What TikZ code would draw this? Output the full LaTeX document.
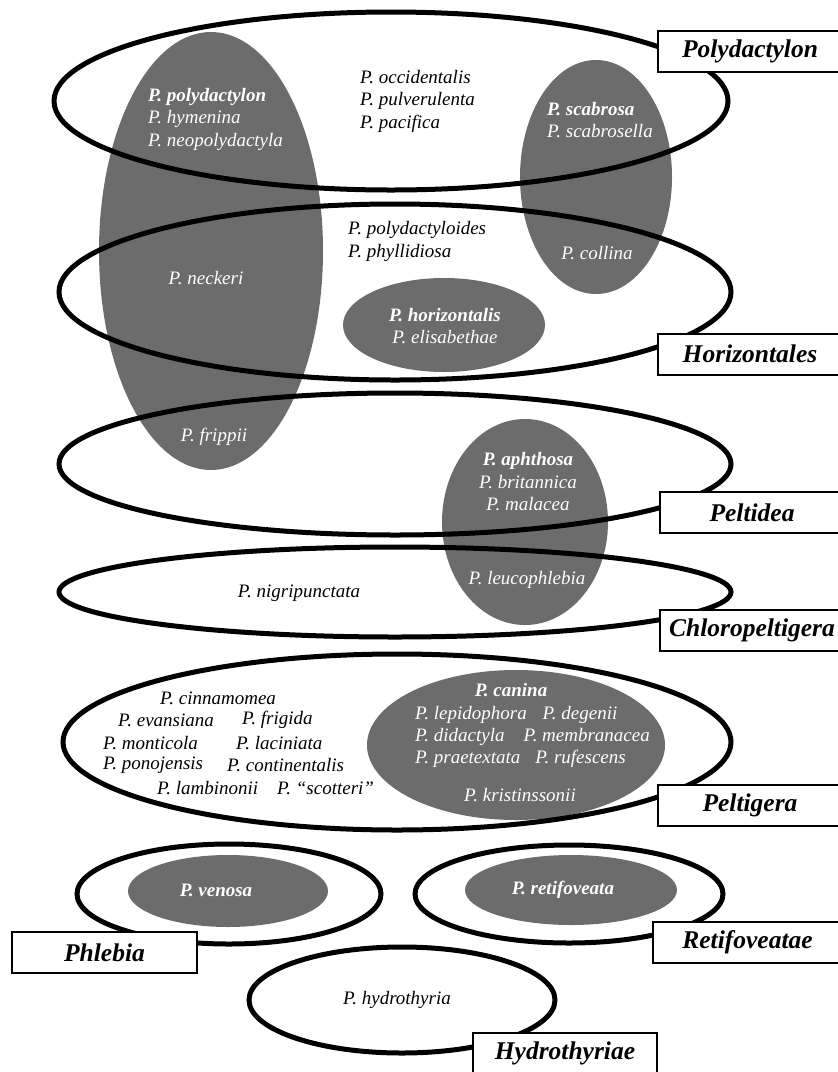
\documentclass[tikz,border=0pt]{standalone}
\usepackage{fontspec}
\setmainfont{Liberation Serif}
\definecolor{shade}{RGB}{108,108,108}
\tikzset{
  grp/.style={draw=black, line width=5pt},
  blob/.style={fill=shade},
  sp/.style={font=\fontsize{19}{22.5}\selectfont\itshape, inner sep=0pt},
  spw/.style={sp, text=white},
  lbl/.style={draw=black, line width=2pt, fill=white, font=\fontsize{25.5}{28}\selectfont\bfseries\itshape, minimum height=41pt, inner sep=0pt},
}
\begin{document}
\begin{tikzpicture}[x=1pt,y=-1pt]
\useasboundingbox[fill=white] (0,0) rectangle (838,1072);
% grey blobs
\fill[blob] (211,251) ellipse [x radius=112, y radius=219];
\fill[blob] (596,177) ellipse [x radius=76, y radius=117];
\fill[blob] (444,325) ellipse [x radius=101, y radius=47];
\fill[blob] (525,522) ellipse [x radius=83, y radius=103];
\fill[blob] (516,745) ellipse [x radius=149, y radius=75];
\fill[blob] (228,891) ellipse [x radius=100, y radius=36];
\fill[blob] (571,890) ellipse [x radius=106, y radius=35];
% group outlines
\draw[grp] (391,101) ellipse [x radius=337, y radius=89];
\draw[grp] (395,292) ellipse [x radius=336, y radius=88];
\draw[grp] (395,464) ellipse [x radius=336, y radius=71];
\draw[grp] (395,592) ellipse [x radius=336, y radius=45];
\draw[grp] (397,742) ellipse [x radius=334, y radius=88];
\draw[grp] (229,894) ellipse [x radius=152, y radius=50];
\draw[grp] (569,894) ellipse [x radius=154, y radius=49];
\draw[grp] (402,1000) ellipse [x radius=153, y radius=53];
% species texts
\node[spw, anchor=west, align=left] (tpoly) at (148,119) {{\bfseries P. polydactylon}\\P. hymenina\\P. neopolydactyla};
\node[sp, anchor=west, align=left] (tocc) at (360,101) {P. occidentalis\\P. pulverulenta\\P. pacifica};
\node[spw, anchor=west, align=left] (tscab) at (547,120) {{\bfseries P. scabrosa}\\P. scabrosella};
\node[spw] (tcoll) at (597,253) {P. collina};
\node[sp, anchor=west, align=left] (tpdl) at (348,241.5) {P. polydactyloides\\P. phyllidiosa};
\node[spw] (tneck) at (206,278) {P. neckeri};
\node[spw, align=center] (thor) at (445,326) {{\bfseries P. horizontalis}\\P. elisabethae};
\node[spw] (tfrip) at (214,437) {P. frippii};
\node[spw, align=center] (taph) at (528,482) {{\bfseries P. aphthosa}\\P. britannica\\P. malacea};
\node[spw] (tleuc) at (527,580) {P. leucophlebia};
\node[sp] (tnig) at (299,593) {P. nigripunctata};
\node[sp, anchor=west] (tcin) at (160,698) {P. cinnamomea};
\node[sp, anchor=west] (tevan) at (118,720) {P. evansiana};
\node[sp, anchor=west] (tfrig) at (242,720) {P. frigida};
\node[sp, anchor=west] (tmont) at (103,743) {P. monticola};
\node[sp, anchor=west] (tlac) at (236,743) {P. laciniata};
\node[sp, anchor=west] (tpono) at (103,765) {P. ponojensis};
\node[sp, anchor=west] (tcont) at (227,765) {P. continentalis};
\node[sp, anchor=west] (tlamb) at (157,788) {P. lambinonii};
\node[sp, anchor=west] (tscot) at (277,788) {P. “scotteri”};
\node[spw, font=\fontsize{19}{22.5}\selectfont\bfseries\itshape] (tcan) at (511,690) {P. canina};
\node[spw, anchor=west] (tlep) at (415,715) {P. lepidophora\hspace{16pt}P. degenii};
\node[spw, anchor=west] (tdid) at (415,737) {P. didactyla\hspace{19pt}P. membranacea};
\node[spw, anchor=west] (tpra) at (415,759) {P. praetextata\hspace{15pt}P. rufescens};
\node[spw] (tkri) at (520,795) {P. kristinssonii};
\node[spw, font=\fontsize{19}{22.5}\selectfont\bfseries\itshape] (tven) at (216,890) {P. venosa};
\node[spw, font=\fontsize{19}{22.5}\selectfont\bfseries\itshape] (tret) at (563,890) {P. retifoveata};
\node[sp] (thyd) at (397,1000) {P. hydrothyria};
% label boxes
\node[lbl, minimum width=184pt] (lpoly) at (750,51) {Polydactylon};
\node[lbl, minimum width=184pt] (lhor) at (750,354) {Horizontales};
\node[lbl, minimum width=184pt] (lpelt) at (752,512.5) {Peltidea};
\node[lbl, minimum width=184pt] (lchl) at (752,630) {Chloropeltigera};
\node[lbl, minimum width=184pt] (lpeg) at (750,805) {Peltigera};
\node[lbl, minimum width=185pt] (lphl) at (104.5,952.5) {Phlebia};
\node[lbl, minimum width=189pt] (lret) at (747.5,942.5) {Retifoveatae};
\node[lbl, minimum width=184pt] (lhyd) at (565,1053.5) {Hydrothyriae};
\end{tikzpicture}
\end{document}
